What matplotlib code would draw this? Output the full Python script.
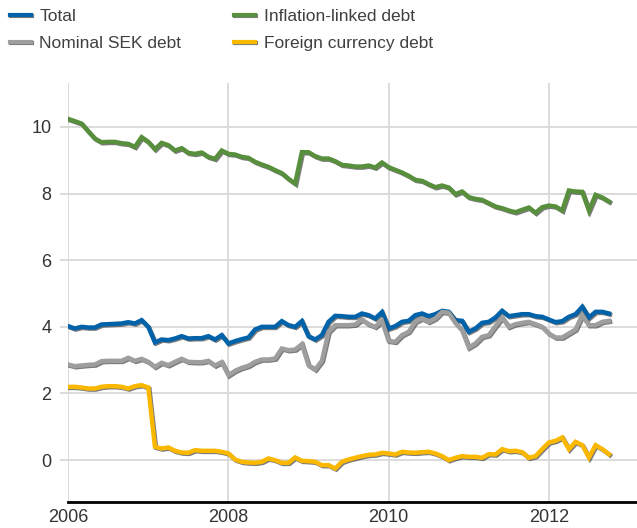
import numpy as np
import matplotlib
matplotlib.use('Agg')
import matplotlib.pyplot as plt
import matplotlib.patheffects as pe

plt.rcParams['font.family'] = ['Liberation Sans', 'DejaVu Sans']

# Monthly data, Jan 2006 - Oct 2012 (percent)
start_year = 2006
total = [4.02, 3.95, 4.00, 3.98, 3.98, 4.07, 4.08, 4.09, 4.10, 4.14, 4.10, 4.20,
         4.00, 3.53, 3.62, 3.60, 3.65, 3.72, 3.65, 3.66, 3.66, 3.72, 3.62, 3.75,
         3.50, 3.57, 3.63, 3.68, 3.92, 4.00, 4.00, 4.00, 4.17, 4.05, 4.00, 4.17,
         3.72, 3.62, 3.75, 4.15, 4.33, 4.32, 4.30, 4.30, 4.40, 4.35, 4.25, 4.44,
         3.95, 4.02, 4.15, 4.18, 4.35, 4.40, 4.32, 4.38, 4.48, 4.45, 4.20, 4.18,
         3.85, 3.95, 4.12, 4.15, 4.28, 4.48, 4.32, 4.35, 4.38, 4.38, 4.32, 4.30,
         4.22, 4.14, 4.17, 4.30, 4.38, 4.60, 4.28, 4.45, 4.45, 4.40]
nominal = [2.87, 2.82, 2.84, 2.86, 2.87, 2.97, 2.98, 2.98, 2.98, 3.07, 2.98, 3.04,
           2.95, 2.80, 2.92, 2.85, 2.95, 3.04, 2.95, 2.94, 2.94, 2.98, 2.84, 2.94,
           2.55, 2.68, 2.77, 2.83, 2.95, 3.02, 3.02, 3.05, 3.35, 3.30, 3.32, 3.48,
           2.85, 2.72, 2.98, 3.85, 4.05, 4.05, 4.05, 4.07, 4.22, 4.08, 4.00, 4.18,
           3.58, 3.55, 3.75, 3.85, 4.15, 4.25, 4.15, 4.25, 4.45, 4.42, 4.12, 3.90,
           3.38, 3.50, 3.70, 3.75, 4.02, 4.28, 4.00, 4.08, 4.12, 4.15, 4.08, 4.00,
           3.80, 3.68, 3.68, 3.80, 3.92, 4.35, 4.05, 4.05, 4.15, 4.18]
inflation = [10.24, 10.17, 10.10, 9.87, 9.65, 9.54, 9.55, 9.55, 9.51, 9.49, 9.40, 9.69,
             9.55, 9.33, 9.52, 9.45, 9.29, 9.36, 9.22, 9.19, 9.23, 9.10, 9.04, 9.29,
             9.19, 9.17, 9.10, 9.07, 8.95, 8.87, 8.80, 8.70, 8.61, 8.44, 8.30, 9.24,
             9.24, 9.12, 9.05, 9.05, 8.97, 8.86, 8.84, 8.81, 8.81, 8.84, 8.78, 8.93,
             8.79, 8.71, 8.63, 8.53, 8.41, 8.38, 8.28, 8.19, 8.24, 8.18, 7.98, 8.06,
             7.89, 7.84, 7.81, 7.71, 7.61, 7.56, 7.49, 7.44, 7.51, 7.58, 7.42, 7.59,
             7.64, 7.61, 7.49, 8.09, 8.06, 8.05, 7.49, 7.96, 7.88, 7.76]
foreign = [2.20, 2.20, 2.18, 2.15, 2.15, 2.20, 2.22, 2.22, 2.20, 2.15, 2.22, 2.25,
           2.18, 0.40, 0.35, 0.38, 0.28, 0.23, 0.22, 0.30, 0.28, 0.28, 0.28, 0.25,
           0.20, 0.02, -0.05, -0.07, -0.08, -0.05, 0.05, 0.00, -0.08, -0.08, 0.08, -0.02,
           -0.03, -0.05, -0.15, -0.15, -0.25, -0.05, 0.02, 0.07, 0.12, 0.16, 0.17, 0.22,
           0.20, 0.17, 0.25, 0.23, 0.22, 0.24, 0.25, 0.20, 0.12, 0.00, 0.07, 0.12,
           0.10, 0.10, 0.07, 0.18, 0.17, 0.33, 0.27, 0.28, 0.24, 0.07, 0.12, 0.33,
           0.53, 0.58, 0.68, 0.33, 0.55, 0.45, 0.08, 0.45, 0.33, 0.18]

labels = ['Total', 'Nominal SEK debt', 'Inflation-linked debt', 'Foreign currency debt']
colors = ['#0062a8', '#9e9e9e', '#588f3d', '#fbb800']

dates = start_year + np.arange(len(total)) / 12.0

fig = plt.figure(figsize=(6.37, 5.28), dpi=100)
ax = fig.add_axes([0.107, 0.049, 0.893, 0.794])

shadow = [pe.SimpleLineShadow(offset=(0.8, -0.8), shadow_color='#444444', alpha=0.7),
          pe.Normal()]

lines = []
for series, lab, col in zip([total, nominal, inflation, foreign], labels, colors):
    ln, = ax.plot(dates, series, color=col, lw=3.2, label=lab,
                  solid_joinstyle='miter', path_effects=shadow)
    lines.append(ln)

ax.set_xlim(2006, 2013.1)
ax.set_ylim(-1.26, 11.32)
ax.set_xticks([2006, 2008, 2010, 2012])
ax.set_yticks([0, 2, 4, 6, 8, 10])
ax.grid(True, color='#d9d9d9', lw=1.3)
ax.set_axisbelow(True)

for s in ['top', 'right', 'left']:
    ax.spines[s].set_visible(False)
ax.spines['bottom'].set_color('black')
ax.spines['bottom'].set_linewidth(2)

ax.tick_params(axis='y', length=6, width=1.3, color='#d9d9d9', labelsize=13,
               labelcolor='#333333', pad=6)
ax.tick_params(axis='x', length=0, labelsize=13, labelcolor='#333333', pad=5)

leg = fig.legend(lines, labels, loc='upper left', bbox_to_anchor=(-0.009, 1.013), ncol=2,
                 frameon=False, fontsize=12.5, handlelength=1.2, handletextpad=0.5,
                 columnspacing=3.05, labelspacing=0.67, labelcolor='#404040')
for h in leg.get_lines():
    h.set_linewidth(3)

fig.savefig('out.png', dpi=100)
